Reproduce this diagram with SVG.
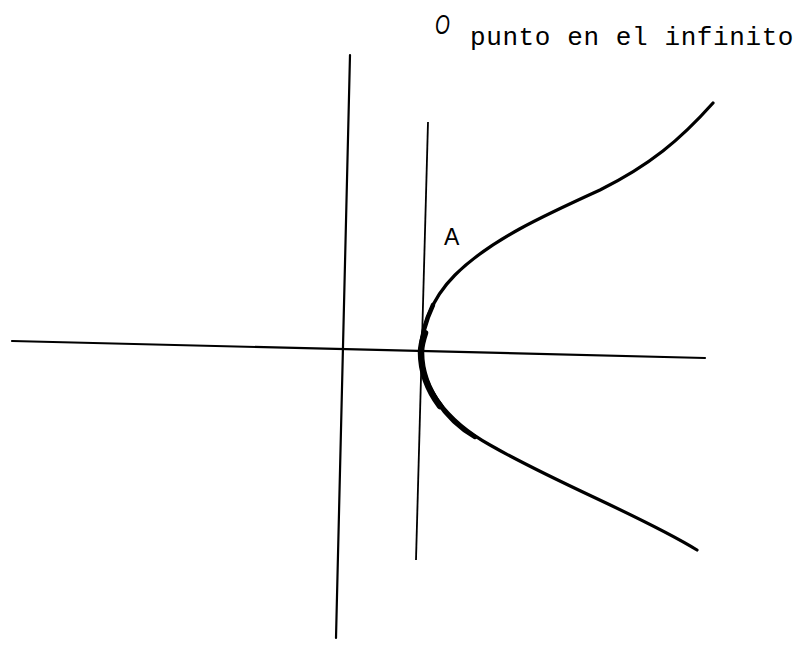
<svg xmlns="http://www.w3.org/2000/svg" width="804" height="666" viewBox="0 0 804 666">
<style>
.ax{stroke:#000;stroke-width:2.2;fill:none;stroke-linecap:round}
.thin{stroke:#000;stroke-width:1.8;fill:none}
.cv{stroke:#000;stroke-width:3.2;fill:none;stroke-linecap:round}
.txt{font-family:"Liberation Mono",monospace;fill:#000}
</style>
<rect width="804" height="666" fill="#fff"/>
<g id="axes">
<line class="ax" x1="12" y1="341" x2="705" y2="358"/>
<line class="ax" x1="350" y1="55" x2="336" y2="638"/>
<line class="thin" x1="428" y1="122" x2="416" y2="560"/>
</g>
<g id="curve">
<path class="cv" d="M713,103 C680,140 650,165 600,190 C545,215 490,240 455,275 C430,300 421,330 421,352 C421,385 445,420 490,445 C560,485 640,515 697,550"/>
<path class="cv" style="stroke-width:4.5" d="M433,305 C425,322 421,340 421,352 C421,385 445,420 475,437"/>
<path class="cv" style="stroke-width:6.5" d="M425,333 C422,342 421,348 421,352 C421,372 428,390 440,406"/>
</g>
<g id="labels">
<text class="txt" x="444" y="245" style="font-family:'Liberation Sans',sans-serif;font-size:23px">A</text>
<text class="txt" transform="translate(435,34) scale(0.68,1)" style="font-family:'Liberation Sans',sans-serif;font-style:italic;font-size:28px">O</text>
<text class="txt" x="470" y="45" style="font-size:26px;letter-spacing:0.6px">punto en el infinito</text>
</g>
</svg>
